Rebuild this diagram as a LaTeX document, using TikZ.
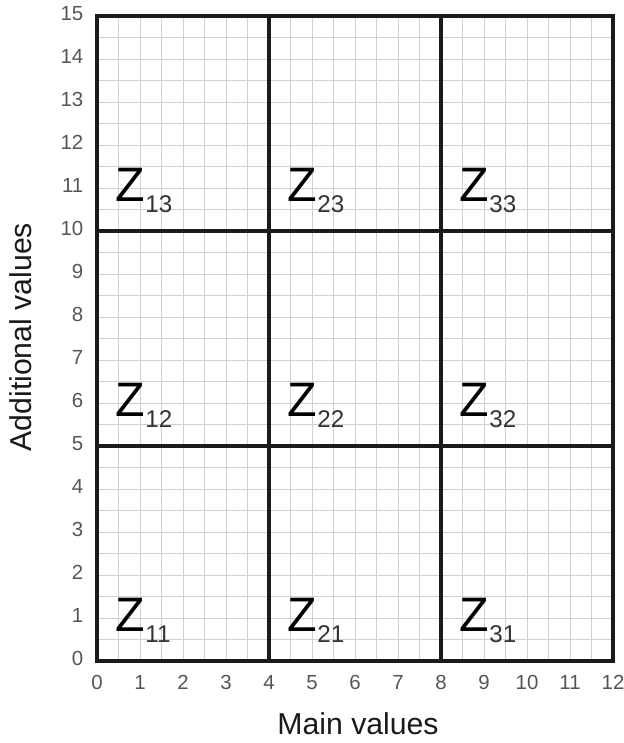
\documentclass[tikz,border=0pt]{standalone}
\usepackage{fontspec}
\setmainfont{Liberation Sans}
\usepackage{tikz}
\usetikzlibrary{positioning, calc}
\definecolor{MyGrid}{HTML}{D0D0D0}
\definecolor{MyTick}{HTML}{555555}
\definecolor{MyLine}{HTML}{1A1A1A}
\definecolor{MySub}{HTML}{333333}
\newcommand{\zlabel}[1]{{\fontsize{32}{32}\selectfont Z}\raisebox{-2.6mm}{\fontsize{16}{16}\selectfont\color{MySub}#1}}
\tikzset{
	ticklabel/.style={font=\fontsize{13.5}{13.5}\selectfont, text=MyTick, inner sep=0pt},
	axislabel/.style={font=\fontsize{20}{20}\selectfont, text=MyLine, inner sep=0pt},
	zone/.style={anchor=base west, inner sep=0pt, text=black},
}

\begin{document}
\begin{tikzpicture}[every path/.style={line width=2.2pt, MyLine}]
			\useasboundingbox (-2.256,-1.907) rectangle (12.233,15.372);
			
			% fine grid
			\draw[MyGrid, line width=0.6pt, step=0.5] (0,0) grid (12,15);
			
			% zones
			\draw (4,0) -- (4,15);
			\draw (8,0) -- (8,15);
			\draw (0,5) -- (12,5);
			\draw (0,10) -- (12,10);
			\draw (0,0) rectangle (12,15);
			
			% ticks
			\foreach \x in {0,...,12}
				\node[ticklabel, anchor=base] (xt\x) at (\x,-0.67) {\x};
			\foreach \y in {0,...,15}
				\node[ticklabel, anchor=east] (yt\y) at (-0.28,\y+0.05) {\y};
			
			\node[axislabel, anchor=base] (xlab) at (6.07,-1.70) {Main values};
			\node[axislabel, rotate=90] (ylab) at (-1.78,7.53) {Additional values};
			
			% zone names
			\foreach \i in {1,2,3}
				\foreach \j in {1,2,3}
					\node[zone] (z\i\j) at ({4*(\i-1)+0.40},{5*(\j-1)+0.68}) {\zlabel{\i\j}};
		\end{tikzpicture}
\end{document}
